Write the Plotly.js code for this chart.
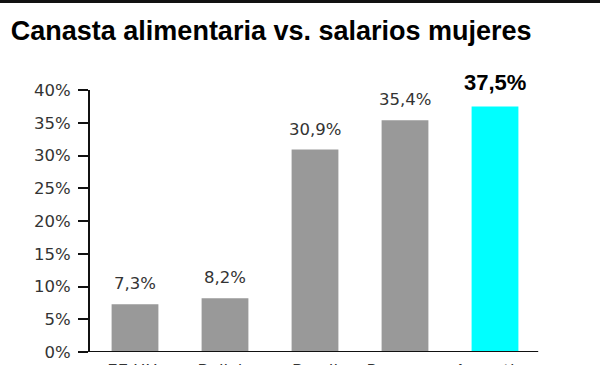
<!DOCTYPE html>
<html>
<head>
<meta charset="utf-8">
<script src="https://cdn.plot.ly/plotly-3.0.1.min.js"></script>
<style>html,body{margin:0;padding:0;background:#fff;}#chart{width:600px;height:365px;}</style>
</head>
<body>
<div id="chart"></div>
<script>
var categories = ["EE.UU.", "Bolivia", "Brasil", "Paraguay", "Argentina"];
var values = [7.3, 8.2, 30.9, 35.4, 37.5];
var barColors = ["#999999", "#999999", "#999999", "#999999", "#00ffff"];
var yTicks = [0, 5, 10, 15, 20, 25, 30, 35, 40];
var yTickLabels = ["0%", "5%", "10%", "15%", "20%", "25%", "30%", "35%", "40%"];
var highlight = "Argentina";

var fontFam = "'DejaVu Sans', sans-serif";
var boldFam = "'Liberation Sans', Arial, sans-serif";

var annotations = categories.map(function (c, i) {
  var hi = c === highlight;
  var t = values[i].toFixed(1).replace('.', ',') + '%';
  return {
    x: c, y: values[i], xref: 'x', yref: 'y',
    text: hi ? '<b>' + t + '</b>' : t,
    showarrow: false, yanchor: 'bottom', yshift: 9,
    font: {family: hi ? boldFam : fontFam, size: hi ? 22 : 16.5, color: hi ? '#000' : '#333'}
  };
});

var trace = {
  type: 'bar', x: categories, y: values,
  marker: {color: barColors, line: {width: 0}},
  hoverinfo: 'none'
};

var layout = {
  width: 600, height: 365,
  margin: {l: 90, r: 60, t: 90, b: 13, pad: 0},
  paper_bgcolor: '#fff', plot_bgcolor: '#fff',
  showlegend: false,
  bargap: 0.48,
  title: {
    text: '<b>Canasta alimentaria vs. salarios mujeres</b>',
    x: 0.018, xanchor: 'left', xref: 'container', y: 0.915, yanchor: 'middle', yref: 'container',
    font: {family: boldFam, size: 27, color: '#000'}
  },
  xaxis: {
    type: 'category', showline: false, ticks: '', showgrid: false, zeroline: false,
    ticklabelstandoff: 6,
    tickfont: {family: fontFam, size: 16.5, color: '#333'}, fixedrange: true
  },
  yaxis: {
    range: [0, 40], tickvals: yTicks, ticktext: yTickLabels,
    showline: true, linecolor: '#111', linewidth: 2,
    ticks: 'outside', ticklen: 10, tickwidth: 2, tickcolor: '#111',
    ticklabelstandoff: 4,
    showgrid: false, zeroline: false,
    tickfont: {family: fontFam, size: 16.5, color: '#333'}, fixedrange: true
  },
  annotations: annotations,
  shapes: [
    {type: 'line', xref: 'paper', yref: 'y', x0: -0.02, x1: 0.996, y0: 0, y1: 0, line: {color: '#111', width: 2}},
    {type: 'line', xref: 'paper', yref: 'paper', x0: -0.21, x1: 1.14, y0: 1.34, y1: 1.34, line: {color: '#111', width: 4}}
  ]
};

Plotly.newPlot('chart', [trace], layout, {displayModeBar: false, staticPlot: true});
</script>
</body>
</html>
